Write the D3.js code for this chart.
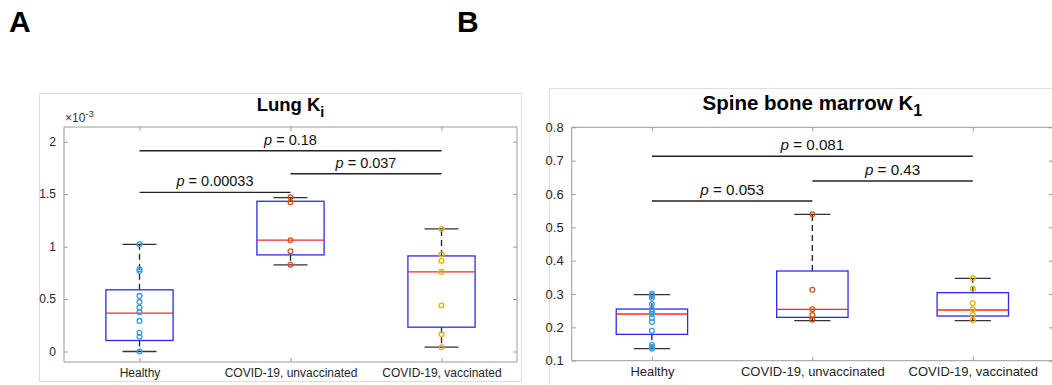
<!DOCTYPE html>
<html><head><meta charset="utf-8">
<script src="https://cdn.jsdelivr.net/npm/d3@7"></script>
<style>
html,body{margin:0;padding:0;background:#fff;}
text{font-family:"Liberation Sans",Arial,Helvetica,sans-serif;}
</style></head>
<body><svg id="c" width="1052" height="385"></svg>
<script>
// ---------- DATA ----------
const categories = ["Healthy", "COVID-19, unvaccinated", "COVID-19, vaccinated"];

// Panel A: Lung Ki (values in units of 1e-3)
const lungHealthy = [1.022, 0.784, 0.768, 0.530, 0.473, 0.419, 0.375, 0.292, 0.178, 0.140, 0.0];
const lungUnvax   = [1.470, 1.423, 1.061, 0.956, 0.826];
const lungVax     = [1.168, 0.927, 0.864, 0.759, 0.438, 0.165, 0.041];
// [lower whisker, q1, median, q3, upper whisker]
const lungBoxes   = [[0.0, 0.105, 0.366, 0.588, 1.022],
                     [0.826, 0.921, 1.061, 1.432, 1.467],
                     [0.041, 0.232, 0.759, 0.911, 1.168]];
const lungTicks   = [0, 0.5, 1, 1.5, 2];
// [from group, to group, bar level, p value]
const lungPvals   = [[0, 1, 1.517, "0.00033"], [0, 2, 1.914, "0.18"], [1, 2, 1.695, "0.037"]];

// Panel B: Spine bone marrow K1
const spineHealthy = [0.301, 0.296, 0.289, 0.270, 0.254, 0.247, 0.240, 0.228, 0.216, 0.190, 0.148, 0.141, 0.136];
const spineUnvax   = [0.539, 0.313, 0.254, 0.237, 0.223];
const spineVax     = [0.347, 0.316, 0.272, 0.254, 0.237, 0.222];
const spineBoxes   = [[0.136, 0.179, 0.240, 0.255, 0.298],
                      [0.220, 0.230, 0.254, 0.369, 0.539],
                      [0.220, 0.234, 0.252, 0.304, 0.347]];
const spineTicks   = [0.1, 0.2, 0.3, 0.4, 0.5, 0.6, 0.7, 0.8];
const spinePvals   = [[0, 1, 0.579, "0.053"], [0, 2, 0.713, "0.081"], [1, 2, 0.639, "0.43"]];

const groupColors = ["#2f9fd9", "#d95319", "#e8ad1c"];

// ---------- DRAW ----------
const svg = d3.select("#c");

function panel(cfg) {
  const g = svg.append("g");
  g.append("rect").attr("x", cfg.frame[0]).attr("y", cfg.frame[1])
    .attr("width", cfg.frame[2] - cfg.frame[0]).attr("height", cfg.frame[3] - cfg.frame[1])
    .attr("fill", "#fff").attr("stroke", "#dedede").attr("stroke-width", 1);

  const x = d3.scalePoint().domain(d3.range(categories.length))
    .range([cfg.left, cfg.right]).padding(0.5);
  const y = d3.scaleLinear().domain(cfg.domain).range([cfg.bottom, cfg.top]);
  const step = x.step();

  const axColor = "#9a9a9a";
  const yl = d3.axisLeft(y).tickValues(cfg.ticks).tickSizeInner(-cfg.tick).tickSizeOuter(0).tickPadding(cfg.tick + 4)
    .tickFormat(d3.format(""));
  const ylG = g.append("g").attr("transform", `translate(${cfg.left},0)`).call(yl);
  const yr = d3.axisRight(y).tickValues(cfg.ticks).tickSizeInner(-cfg.tick).tickSizeOuter(0).tickFormat("");
  const yrG = g.append("g").attr("transform", `translate(${cfg.right},0)`).call(yr);
  const xb = d3.axisBottom(x).tickSizeInner(-cfg.tick).tickSizeOuter(0).tickPadding(cfg.xlabPad)
    .tickFormat(i => categories[i]);
  const xbG = g.append("g").attr("transform", `translate(0,${cfg.bottom})`).call(xb);
  const xt = d3.axisTop(x).tickSizeInner(-cfg.tick).tickSizeOuter(0).tickFormat("");
  const xtG = g.append("g").attr("transform", `translate(0,${cfg.top})`).call(xt);
  [ylG, yrG, xbG, xtG].forEach(a => {
    a.select(".domain").attr("stroke", axColor).attr("stroke-width", 1);
    a.selectAll(".tick line").attr("stroke", axColor);
  });
  ylG.select(".domain").attr("d", `M0,${cfg.bottom}V${cfg.top}`);
  yrG.select(".domain").attr("d", `M0,${cfg.bottom}V${cfg.top}`);
  xbG.select(".domain").attr("d", `M${cfg.left},0H${cfg.right}`);
  xtG.select(".domain").attr("d", `M${cfg.left},0H${cfg.right}`);
  ylG.selectAll(".tick text").attr("fill", "#262626").style("font-size", cfg.tickFont + "px")
    .style("font-family", "'Liberation Sans',Arial,sans-serif");
  xbG.selectAll(".tick text").attr("fill", "#262626").style("font-size", cfg.tickFont + "px")
    .style("font-family", "'Liberation Sans',Arial,sans-serif").attr("dy", "0.71em");

  const bw = step * 0.445, cw = step * 0.225;
  cfg.boxes.forEach((b, i) => {
    const cx = x(i);
    const bx = g.append("g");
    bx.append("line").attr("x1", cx).attr("x2", cx).attr("y1", y(b[3])).attr("y2", y(b[4]))
      .attr("stroke", "#222").attr("stroke-width", 1.3).attr("stroke-dasharray", "6,4");
    bx.append("line").attr("x1", cx).attr("x2", cx).attr("y1", y(b[1])).attr("y2", y(b[0]))
      .attr("stroke", "#222").attr("stroke-width", 1.3).attr("stroke-dasharray", "6,4");
    [b[0], b[4]].forEach(v => bx.append("line").attr("x1", cx - cw / 2).attr("x2", cx + cw / 2)
      .attr("y1", y(v)).attr("y2", y(v)).attr("stroke", "#333").attr("stroke-width", 1.3));
    bx.append("rect").attr("x", cx - bw / 2).attr("y", y(b[3])).attr("width", bw)
      .attr("height", y(b[1]) - y(b[3])).attr("fill", "none").attr("stroke", "#2b2bf0").attr("stroke-width", 1.3);
    bx.append("line").attr("x1", cx - bw / 2).attr("x2", cx + bw / 2).attr("y1", y(b[2])).attr("y2", y(b[2]))
      .attr("stroke", "#f22a2a").attr("stroke-width", 1.3);
  });

  cfg.points.forEach((pts, i) => {
    g.append("g").selectAll("circle").data(pts).join("circle")
      .attr("cx", x(i)).attr("cy", d => y(d)).attr("r", 2.4)
      .attr("fill", "none").attr("stroke", groupColors[i]).attr("stroke-width", 1.3);
  });

  cfg.pvals.forEach(p => {
    const x1 = x(p[0]), x2 = x(p[1]), yy = y(p[2]);
    g.append("line").attr("x1", x1).attr("x2", x2).attr("y1", yy).attr("y2", yy)
      .attr("stroke", "#222").attr("stroke-width", 1.4);
    const t = g.append("text").attr("x", (x1 + x2) / 2).attr("y", yy - 6)
      .attr("text-anchor", "middle").style("font-size", cfg.pFont + "px").attr("fill", "#111");
    t.append("tspan").style("font-style", "italic").text("p");
    t.append("tspan").text(" = " + p[3]);
  });

  const tt = g.append("text").attr("x", (cfg.left + cfg.right) / 2).attr("y", cfg.titleY)
    .attr("text-anchor", "middle").style("font-size", cfg.titleFont + "px").style("font-weight", "bold").attr("fill", "#000");
  tt.append("tspan").text(cfg.title);
  tt.append("tspan").attr("dy", cfg.titleFont * 0.3).style("font-size", (cfg.titleFont * 0.78) + "px").text(cfg.sub);

  if (cfg.exp) {
    const e = g.append("text").attr("x", cfg.left + 1).attr("y", cfg.top - 5)
      .style("font-size", "12px").attr("fill", "#333");
    e.append("tspan").text("\u00d710");
    e.append("tspan").attr("dy", -5).style("font-size", "9.5px").text("-3");
  }

  svg.append("text").attr("x", cfg.letterX).attr("y", 32).style("font-size", "30px")
    .style("font-weight", "bold").attr("fill", "#000").text(cfg.letter);
}

panel({
  frame: [39.5, 93.5, 521.5, 381.5],
  left: 64, right: 517, top: 127, bottom: 362,
  domain: [-0.1, 2.14], ticks: lungTicks, tick: 4, tickFont: 12, xlabPad: 6,
  boxes: lungBoxes, points: [lungHealthy, lungUnvax, lungVax], pvals: lungPvals,
  pFont: 14.5, title: "Lung K", sub: "i", titleFont: 18.5, titleY: 111,
  exp: true, letter: "A", letterX: 9
});

panel({
  frame: [549.5, 88.5, 1060, 390],
  left: 571.7, right: 1053, top: 127.3, bottom: 360.7,
  domain: [0.1, 0.8], ticks: spineTicks, tick: 4, tickFont: 13, xlabPad: 6,
  boxes: spineBoxes, points: [spineHealthy, spineUnvax, spineVax], pvals: spinePvals,
  pFont: 15.2, title: "Spine bone marrow K", sub: "1", titleFont: 20.5, titleY: 110,
  exp: false, letter: "B", letterX: 457
});
</script></body></html>
